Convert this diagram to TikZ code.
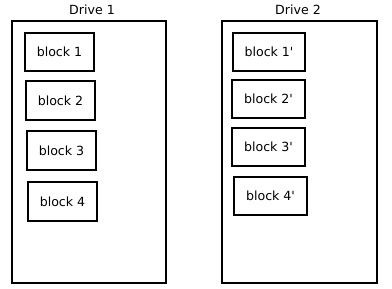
\documentclass[tikz,border=0pt]{standalone}
\usepackage{fontspec}
\setmainfont{DejaVu Sans}
\begin{document}
\begin{tikzpicture}[x=1pt,y=-1pt,
  drive/.style={draw=black,line width=1.3pt},
  blk/.style={draw=black,line width=1.3pt,inner sep=0pt},
  lbl/.style={font=\fontsize{12.6}{14}\selectfont,inner sep=0pt}]
\useasboundingbox (0,0) rectangle (392,289);
% Drive 1
\node[lbl] (t1) at (92,10) {Drive 1};
\draw[drive] (12,21) rectangle (166,283);
\draw[blk] (25,33) rectangle (94,71); \node[lbl] (b1) at (59.5,52) {block 1};
\draw[blk] (26,81) rectangle (95,120); \node[lbl] (b2) at (60.5,100.5) {block 2};
\draw[blk] (27,131) rectangle (96,170); \node[lbl] (b3) at (61.5,150.5) {block 3};
\draw[blk] (28,182) rectangle (97,221); \node[lbl] (b4) at (62.5,201.5) {block 4};
% Drive 2
\node[lbl] (t2) at (298,10) {Drive 2};
\draw[drive] (222,21) rectangle (377,283);
\draw[blk] (233,33) rectangle (305,71); \node[lbl] (c1) at (269,52) {block 1\textquotesingle};
\draw[blk] (232,80) rectangle (305,118); \node[lbl] (c2) at (268.5,99) {block 2\textquotesingle};
\draw[blk] (232,128) rectangle (305,166); \node[lbl] (c3) at (268.5,147) {block 3\textquotesingle};
\draw[blk] (234,177) rectangle (307,215); \node[lbl] (c4) at (270.5,196) {block 4\textquotesingle};
\end{tikzpicture}
\end{document}
